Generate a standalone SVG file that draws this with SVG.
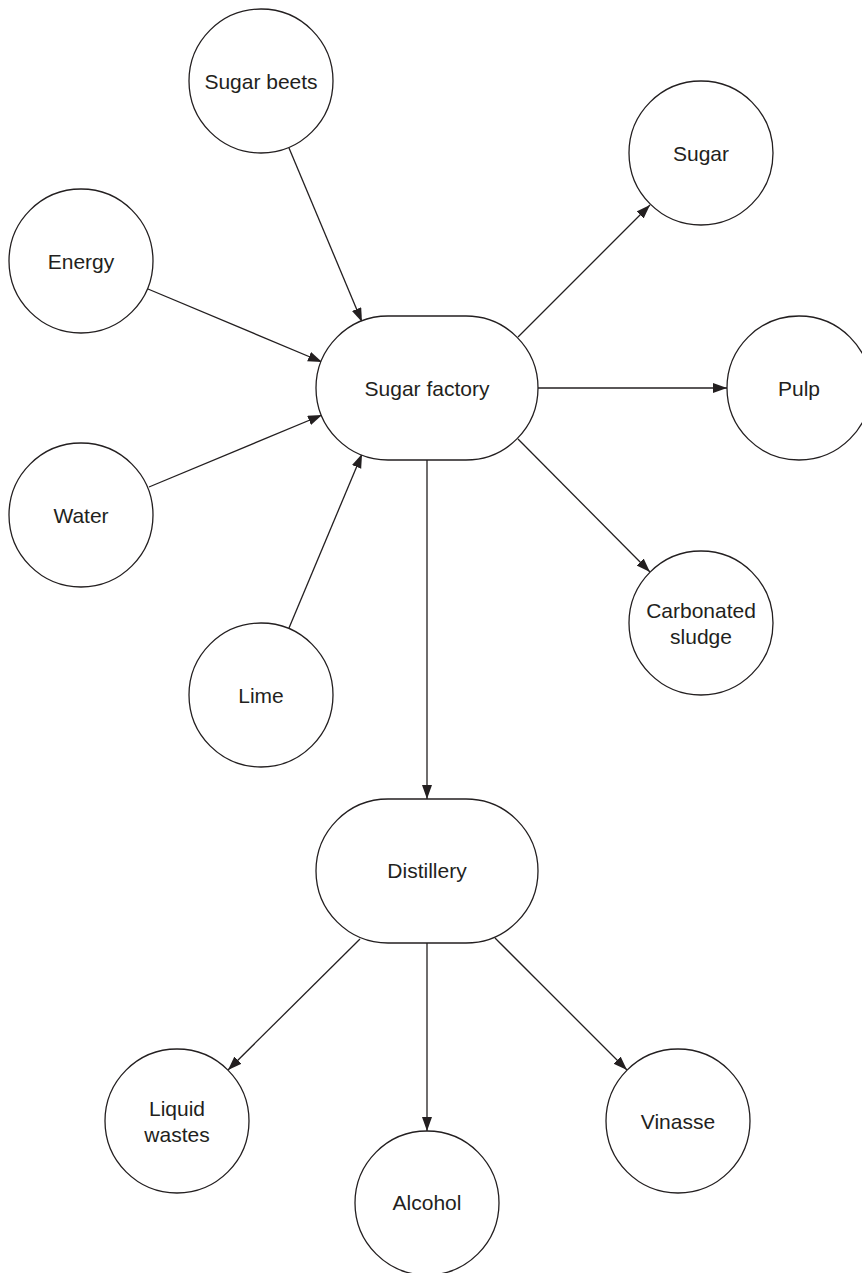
<svg xmlns="http://www.w3.org/2000/svg" width="862" height="1273" viewBox="0 0 862 1273">
<style>
.n{fill:#fff;stroke:#231f20;stroke-width:1.3}
.t{font-family:"Liberation Sans",Arial,sans-serif;font-size:21px;fill:#231f20;text-anchor:middle}
.c{stroke:#231f20;stroke-width:1.3;fill:none;marker-end:url(#ah)}
</style>
<defs>
<marker id="ah" markerUnits="userSpaceOnUse" markerWidth="15" markerHeight="11" refX="14" refY="5" orient="auto">
<path d="M0,0 L14,5 L0,10 z" fill="#231f20"/>
</marker>
</defs>
<rect width="862" height="1273" fill="#fff"/>
<g id="connectors">
<line class="c" x1="289" y1="148" x2="362" y2="322"/>
<line class="c" x1="148" y1="289" x2="322" y2="362"/>
<line class="c" x1="149" y1="487" x2="322" y2="415"/>
<line class="c" x1="289" y1="628" x2="362" y2="454"/>
<line class="c" x1="518" y1="337" x2="650" y2="205"/>
<line class="c" x1="538" y1="388" x2="727" y2="388"/>
<line class="c" x1="518" y1="439" x2="650" y2="572"/>
<line class="c" x1="427" y1="460" x2="427" y2="799"/>
<line class="c" x1="360" y1="939" x2="228" y2="1070"/>
<line class="c" x1="427" y1="943" x2="427" y2="1131"/>
<line class="c" x1="495" y1="938" x2="627" y2="1070"/>
</g>
<g id="sugar-beets"><circle class="n" cx="261" cy="81" r="72"/><text class="t" x="261" y="89">Sugar beets</text></g>
<g id="energy"><circle class="n" cx="81" cy="261" r="72"/><text class="t" x="81" y="269">Energy</text></g>
<g id="water"><circle class="n" cx="81" cy="515" r="72"/><text class="t" x="81" y="523">Water</text></g>
<g id="lime"><circle class="n" cx="261" cy="695" r="72"/><text class="t" x="261" y="703">Lime</text></g>
<g id="sugar"><circle class="n" cx="701" cy="153" r="72"/><text class="t" x="701" y="161">Sugar</text></g>
<g id="pulp"><circle class="n" cx="799" cy="388" r="72"/><text class="t" x="799" y="396">Pulp</text></g>
<g id="carbonated-sludge"><circle class="n" cx="701" cy="623" r="72"/><text class="t" x="701" y="618">Carbonated</text><text class="t" x="701" y="644">sludge</text></g>
<g id="sugar-factory"><rect class="n" x="316" y="316" width="222" height="144" rx="72" ry="72"/><text class="t" x="427" y="396">Sugar factory</text></g>
<g id="distillery"><rect class="n" x="316" y="799" width="222" height="144" rx="72" ry="72"/><text class="t" x="427" y="878">Distillery</text></g>
<g id="liquid-wastes"><circle class="n" cx="177" cy="1121" r="72"/><text class="t" x="177" y="1116">Liquid</text><text class="t" x="177" y="1142">wastes</text></g>
<g id="alcohol"><circle class="n" cx="427" cy="1203" r="72"/><text class="t" x="427" y="1210">Alcohol</text></g>
<g id="vinasse"><circle class="n" cx="678" cy="1121" r="72"/><text class="t" x="678" y="1129">Vinasse</text></g>
</svg>
